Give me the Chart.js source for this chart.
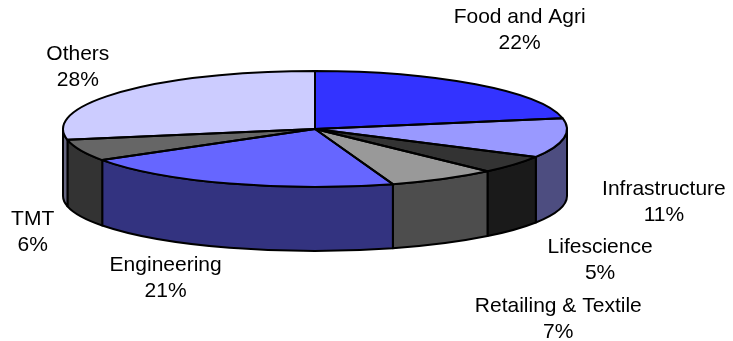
<!DOCTYPE html>
<html>
<head>
<meta charset="utf-8">
<script src="https://cdn.jsdelivr.net/npm/chart.js@4"></script>
<style>
  html, body { margin: 0; padding: 0; background: #fff; }
</style>
</head>
<body>
<canvas id="myChart" width="733" height="341"></canvas>
<script>
// sector split in percent
const sectors = ['Food and Agri', 'Infrastructure', 'Lifescience', 'Retailing & Textile', 'Engineering', 'TMT', 'Others'];
const shares = [22, 11, 5, 7, 21, 6, 28];
const topColors = ['#3333FF', '#9999FF', '#333333', '#999999', '#6666FF', '#666666', '#CCCCFF'];

// where each label sits relative to the rim point at the slice's mid-angle
const labelOffsets = [[44, -54], [100, 64], [86, 96], [115, 140], [-64, 95], [-48, 82], [-43, -25]];

const STRETCH = 252 / 58;   // top face is drawn as a flat ellipse
const DEPTH = 67;           // height of the side wall at the far left/right
const BOTTOM_SQUASH = 55 / 58; // lower rim is a little flatter than the top one
const FONT = '21px "Liberation Sans", Arial, sans-serif';

// side walls are the top colour at half brightness
function shade(hex) {
    let n = parseInt(hex.slice(1), 16);
    let r = Math.round(((n >> 16) & 255) / 2);
    let g = Math.round(((n >> 8) & 255) / 2);
    let b = Math.round((n & 255) / 2);
    return 'rgb(' + r + ',' + g + ',' + b + ')';
}

function geometry(chart) {
    let arcs = chart.getDatasetMeta(0).data;
    let cx = arcs[0].x, cy = arcs[0].y, ry = arcs[0].outerRadius;
    return { arcs: arcs, cx: cx, cy: cy, rx: ry * STRETCH, ry: ry };
}

const pie3d = {
    id: 'pie3d',
    beforeDatasetsDraw(chart) {
        let ctx = chart.ctx;
        let g = geometry(chart);
        let by = g.cy + DEPTH, bry = g.ry * BOTTOM_SQUASH;
        ctx.save();
        ctx.lineWidth = 2;
        ctx.lineJoin = 'round';
        ctx.strokeStyle = '#000';
        // front half of the rim only (canvas angles 0..PI)
        g.arcs.forEach((arc, i) => {
            let a = Math.max(arc.startAngle, 0);
            let b = Math.min(arc.endAngle, Math.PI);
            if (a >= b) return;
            ctx.beginPath();
            ctx.ellipse(g.cx, g.cy, g.rx, g.ry, 0, a, b);
            ctx.lineTo(g.cx + g.rx * Math.cos(b), by + bry * Math.sin(b));
            ctx.ellipse(g.cx, by, g.rx, bry, 0, b, a, true);
            ctx.closePath();
            ctx.fillStyle = shade(topColors[i]);
            ctx.fill();
            ctx.stroke();
        });
        ctx.restore();

        // squash the pie into an ellipse while the library draws the top faces
        ctx.save();
        ctx.translate(g.cx, g.cy);
        ctx.scale(STRETCH, 1);
        ctx.translate(-g.cx, -g.cy);
    },
    afterDatasetsDraw(chart) {
        let ctx = chart.ctx;
        ctx.restore();
        let g = geometry(chart);

        ctx.save();
        ctx.lineWidth = 2;
        ctx.lineJoin = 'round';
        ctx.strokeStyle = '#000';
        g.arcs.forEach(arc => {
            ctx.beginPath();
            ctx.moveTo(g.cx, g.cy);
            ctx.ellipse(g.cx, g.cy, g.rx, g.ry, 0, arc.startAngle, arc.endAngle);
            ctx.closePath();
            ctx.stroke();
        });

        ctx.fillStyle = '#000';
        ctx.font = FONT;
        ctx.textAlign = 'center';
        ctx.textBaseline = 'middle';
        g.arcs.forEach((arc, i) => {
            let mid = (arc.startAngle + arc.endAngle) / 2;
            let x = g.cx + g.rx * Math.cos(mid) + labelOffsets[i][0];
            let y = g.cy + g.ry * Math.sin(mid) + labelOffsets[i][1];
            ctx.fillText(sectors[i], x, y - 13);
            ctx.fillText(shares[i] + '%', x, y + 13);
        });
        ctx.restore();
    }
};

document.addEventListener('DOMContentLoaded', function() {
    var ctx = document.getElementById('myChart').getContext('2d');

    var myChart = new Chart(ctx, {
        type: 'pie',
        data: {
            labels: sectors,
            datasets: [{
                data: shares,
                backgroundColor: topColors,
                borderWidth: 0
            }]
        },
        options: {
            responsive: false,
            animation: false,
            events: [],
            layout: {
                padding: { left: 0, right: 103, top: 71, bottom: 154 }
            },
            plugins: {
                legend: { display: false },
                tooltip: { enabled: false }
            }
        },
        plugins: [pie3d]
    });
});
</script>
</body>
</html>
